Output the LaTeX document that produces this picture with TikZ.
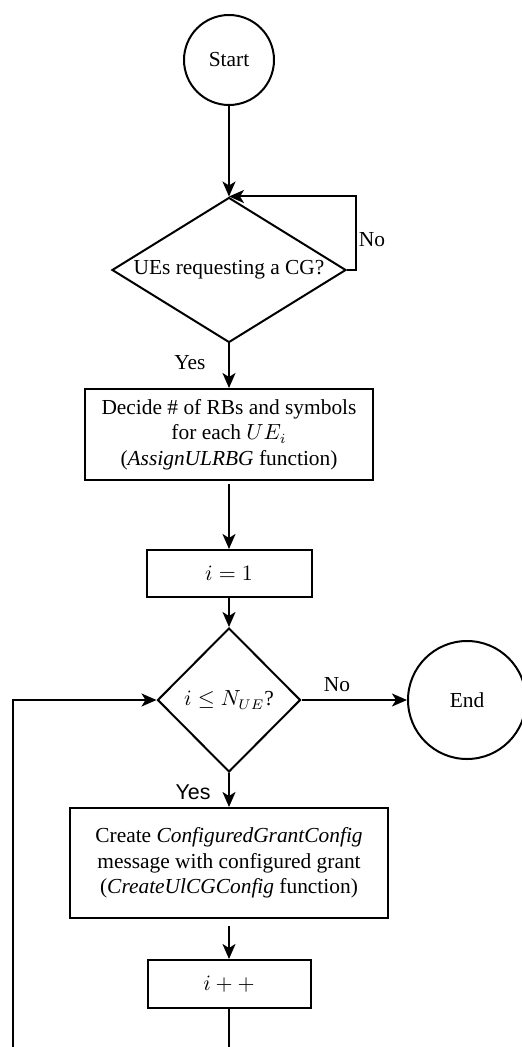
\documentclass[tikz,border=0pt]{standalone}
\usepackage{fontspec}
\setmainfont{Liberation Serif}
\newfontfamily\arialfont{Liberation Sans}
\usetikzlibrary{shapes.geometric,arrows.meta}
\begin{document}
\begin{tikzpicture}[x=0.5pt,y=-0.5pt,
  font=\fontsize{10.7}{12.8}\selectfont,
  line width=1pt,
  arr/.style={-{Stealth[length=7.5pt,width=6.5pt,inset=2pt]}},
  term/.style={circle,draw,inner sep=0pt},
  proc/.style={rectangle,draw,align=center,inner sep=0pt},
  dec/.style={diamond,draw,inner sep=0pt,align=center},
  lbl/.style={inner sep=0pt}]
\useasboundingbox (0,0) rectangle (521,1047);
\node[term,minimum size=45pt] (start) at (229,60) {Start};
\node[dec,shape aspect=1.6,minimum width=117pt,minimum height=72.5pt] (d1) at (229,270) {UEs requesting a CG?};
\node[proc,minimum width=144pt,minimum height=45.5pt] (b1) at (229,434.5)
  {Decide \# of RBs and symbols\\ for each $UE_i$\\ (\textit{AssignULRBG} function)};
\node[proc,minimum width=82.5pt,minimum height=23.5pt] (i1) at (229,573.5) {$i=1$};
\node[dec,minimum width=71.5pt,minimum height=72pt] (d2) at (229,700) {$i \le N_{UE}$?};
\node[term,minimum size=59pt] (end) at (467,700) {End};
\node[proc,minimum width=159pt,minimum height=55pt] (b2) at (229,863)
  {Create \textit{ConfiguredGrantConfig}\\ message with configured grant\\ (\textit{CreateUlCGConfig} function)};
\node[proc,minimum width=81.5pt,minimum height=24pt] (ipp) at (229,984) {$i++$};

\coordinate (nr) at (356,198);
\coordinate (bot) at (229,1060);
\coordinate (botl) at (13,1060);

\draw[arr] (start.south) -- (d1.north);
\draw[arr] (d1.east) -| (nr |- d1.north) -- (d1.north);
\node[lbl] (no1) at (372,240) {No};
\draw[arr] (d1.south) -- (b1.north);
\node[lbl] (yes1) at (190,363) {Yes};
\draw[arr] ([yshift=-1.5pt]b1.south) -- (i1.north);
\draw[arr] (i1.south) -- (d2.north);
\draw[arr] (d2.east) -- (end.west);
\node[lbl] (no2) at (337,685) {No};
\draw[arr] (d2.south) -- (b2.north);
\node[lbl,font=\arialfont\fontsize{10.7}{12.8}\selectfont] (yes2) at (193,792) {Yes};
\draw[arr] ([yshift=-3.5pt]b2.south) -- (ipp.north);
\draw[arr] (ipp.south) -- (bot) -- (botl) -- (botl |- d2.west) -- (d2.west);
\end{tikzpicture}
\end{document}
